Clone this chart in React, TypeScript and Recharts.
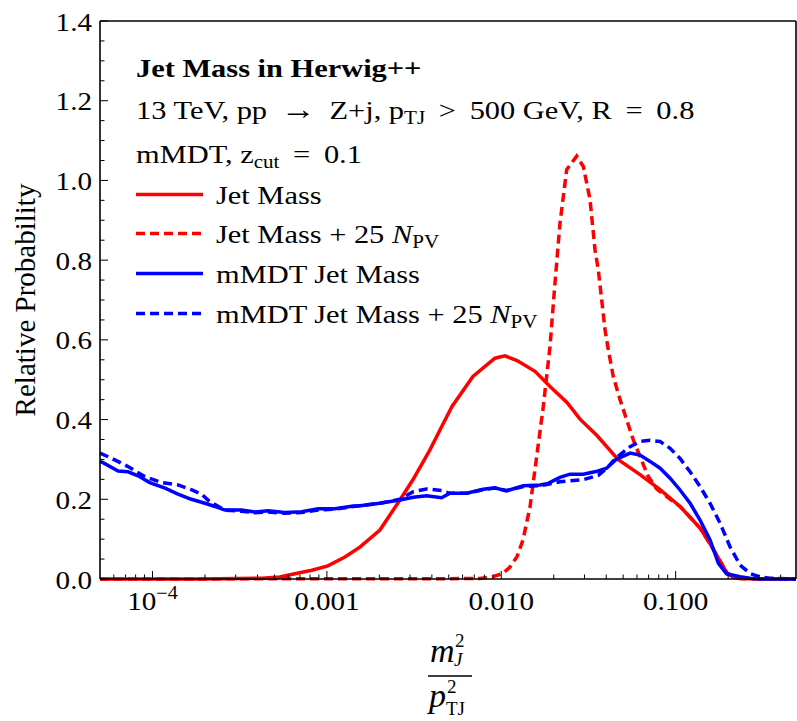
import React from 'react';
import { LineChart, Line, XAxis, YAxis, Legend } from 'recharts';

const FONT = '"Liberation Serif", "Times New Roman", Times, serif';
const TSX = 1.12; // horizontal stretch of tick text
const LSX = 1.17; // horizontal stretch of legend text

// ---- axis ticks ----
const xMajorTicks = [1e-4, 1e-3, 1e-2, 1e-1];
const xMajorLabels = ['10^-4', '0.001', '0.010', '0.100'];
const xAllTicks = [
  6e-5, 7e-5, 8e-5, 9e-5, 1e-4, 2e-4, 3e-4, 4e-4, 5e-4, 6e-4, 7e-4, 8e-4, 9e-4,
  1e-3, 2e-3, 3e-3, 4e-3, 5e-3, 6e-3, 7e-3, 8e-3, 9e-3,
  1e-2, 2e-2, 3e-2, 4e-2, 5e-2, 6e-2, 7e-2, 8e-2, 9e-2,
  0.1, 0.2, 0.3, 0.4,
];
const yAllTicks = [
  0, 0.05, 0.1, 0.15, 0.2, 0.25, 0.3, 0.35, 0.4, 0.45, 0.5, 0.55, 0.6, 0.65, 0.7,
  0.75, 0.8, 0.85, 0.9, 0.95, 1.0, 1.05, 1.1, 1.15, 1.2, 1.25, 1.3, 1.35, 1.4,
];
const yMajorTicks = [0, 0.2, 0.4, 0.6, 0.8, 1.0, 1.2, 1.4];
const yMajorLabels = ['0.0', '0.2', '0.4', '0.6', '0.8', '1.0', '1.2', '1.4'];

// ---- series: Jet Mass ----
const jetMassX = [
  5e-5, 1.87e-4, 4.24e-4, 5.37e-4, 6.55e-4, 8.2e-4, 1.013e-3, 1.269e-3, 1.546e-3,
  2.014e-3, 2.623e-3, 3.114e-3, 3.9e-3, 4.45e-3, 5.22e-3, 6.88e-3, 9.2e-3, 1.05e-2,
  1.231e-2, 1.561e-2, 1.903e-2, 2.381e-2, 2.83e-2, 3.54e-2, 4.67e-2, 6.25e-2,
  8.14e-2, 0.106, 0.121, 0.138, 0.1576, 0.1798, 0.1972, 0.215, 0.234, 0.305, 0.49,
];
const jetMassY = [
  0, 0, 0.002, 0.005, 0.013, 0.022, 0.033, 0.055, 0.08,
  0.123, 0.198, 0.249, 0.324, 0.374, 0.433, 0.508, 0.554, 0.56,
  0.548, 0.521, 0.483, 0.443, 0.401, 0.36, 0.3, 0.262,
  0.224, 0.182, 0.155, 0.128, 0.088, 0.045, 0.015, 0.004, 0.001, 0, 0,
];

// ---- series: Jet Mass + 25 N_PV ----
const jetMassPUX = [
  5e-5, 7.55e-3, 8.96e-3, 1.023e-2, 1.122e-2, 1.231e-2, 1.332e-2, 1.461e-2, 1.596e-2,
  1.742e-2, 1.903e-2, 2.033e-2, 2.172e-2, 2.372e-2, 2.707e-2, 2.955e-2, 3.228e-2,
  3.448e-2, 3.601e-2, 3.767e-2, 3.936e-2, 4.11e-2, 4.39e-2, 4.8e-2, 5.24e-2, 5.72e-2,
  6.25e-2, 6.97e-2, 7.79e-2, 0.09, 0.106, 0.121, 0.138, 0.1576, 0.1798, 0.1972,
  0.215, 0.234, 0.305, 0.49,
];
const jetMassPUY = [
  0, 0.001, 0.006, 0.014, 0.03, 0.056, 0.098, 0.18, 0.307,
  0.433, 0.583, 0.743, 0.893, 1.027, 1.061, 1.035, 0.952,
  0.826, 0.776, 0.7, 0.625, 0.575, 0.508, 0.45, 0.399, 0.349,
  0.307, 0.257, 0.226, 0.205, 0.182, 0.155, 0.128, 0.088, 0.045, 0.015,
  0.004, 0.001, 0, 0,
];

// ---- series: mMDT Jet Mass ----
const mmdtX = [
  5e-5, 5.2e-5, 6.35e-5, 7.24e-5, 8.26e-5, 9.65e-5, 1.18e-4, 1.4e-4, 1.67e-4, 2.0e-4,
  2.28e-4, 2.6e-4, 3.24e-4, 3.87e-4, 4.61e-4, 5.74e-4, 7.16e-4, 8.91e-4, 1.11e-3,
  1.42e-3, 1.55e-3, 2.01e-3, 2.62e-3, 3.13e-3, 3.73e-3, 4.55e-3, 5.08e-3, 6.33e-3,
  7.88e-3, 9.2e-3, 1.07e-2, 1.34e-2, 1.67e-2, 1.86e-2, 2.17e-2, 2.48e-2, 2.95e-2,
  3.6e-2, 4.02e-2, 4.59e-2, 5.48e-2, 6.25e-2, 7.13e-2, 8.14e-2, 9.29e-2, 0.1057,
  0.121, 0.138, 0.1575, 0.176, 0.196, 0.234, 0.267, 0.305, 0.49,
];
const mmdtY = [
  0.295, 0.292, 0.271, 0.269, 0.259, 0.242, 0.228, 0.213, 0.2, 0.19,
  0.182, 0.173, 0.173, 0.168, 0.171, 0.167, 0.169, 0.176, 0.176,
  0.183, 0.184, 0.19, 0.198, 0.205, 0.209, 0.204, 0.215, 0.215,
  0.225, 0.229, 0.221, 0.234, 0.236, 0.24, 0.255, 0.263, 0.263,
  0.271, 0.278, 0.301, 0.316, 0.311, 0.295, 0.278, 0.253, 0.224,
  0.19, 0.148, 0.098, 0.039, 0.013, 0.006, 0.002, 0, 0,
];

// ---- series: mMDT Jet Mass + 25 N_PV ----
const mmdtPUX = [
  5e-5, 5.82e-5, 7.24e-5, 9.03e-5, 1.126e-4, 1.4e-4, 1.67e-4, 1.91e-4, 2.13e-4, 2.6e-4,
  3.24e-4, 3.87e-4, 4.61e-4, 5.74e-4, 7.16e-4, 8.91e-4, 1.11e-3, 1.42e-3, 1.55e-3,
  2.01e-3, 2.62e-3, 3.13e-3, 3.73e-3, 4.55e-3, 5.08e-3, 6.33e-3, 7.88e-3, 9.2e-3,
  1.07e-2, 1.34e-2, 1.67e-2, 2.17e-2, 2.95e-2, 3.6e-2, 4.02e-2, 4.59e-2, 5.48e-2,
  6.25e-2, 7.13e-2, 8.14e-2, 9.29e-2, 0.1057, 0.121, 0.138, 0.1575, 0.1798, 0.205,
  0.234, 0.267, 0.305, 0.348, 0.49,
];
const mmdtPUY = [
  0.316, 0.303, 0.282, 0.257, 0.242, 0.236, 0.224, 0.213, 0.194, 0.173,
  0.17, 0.166, 0.168, 0.165, 0.167, 0.173, 0.175, 0.182, 0.184,
  0.19, 0.2, 0.219, 0.226, 0.222, 0.215, 0.215, 0.224, 0.228,
  0.222, 0.232, 0.234, 0.244, 0.249, 0.26, 0.278, 0.305, 0.332,
  0.345, 0.348, 0.345, 0.328, 0.303, 0.269, 0.232, 0.19, 0.14, 0.081,
  0.035, 0.014, 0.005, 0.002, 0,
];

const toPts = (xs: number[], ys: number[]) => xs.map((x, i) => ({ x, y: ys[i] }));
const jetMass = toPts(jetMassX, jetMassY);
const jetMassPU = toPts(jetMassPUX, jetMassPUY);
const mmdt = toPts(mmdtX, mmdtY);
const mmdtPU = toPts(mmdtPUX, mmdtPUY);

const RED = '#ff0000';
const BLUE = '#0000ff';
const DASH = '9 5';
const LW = 3.5;
const TS = '\u2009';

const near = (a: number, b: number) => Math.abs(a - b) <= Math.abs(b) * 1e-6 + 1e-9;
const xMajorIndex = (v: number) => xMajorTicks.findIndex((t) => near(v, t));
const yMajorIndex = (v: number) => yMajorTicks.findIndex((t) => near(v, t));

const XLabelText = ({ label }: { label: string }) => {
  if (label.startsWith('10^')) {
    return (
      <>
        <tspan>10</tspan>
        <tspan dy={-11} fontSize={18}>{'\u2212' + label.slice(4)}</tspan>
      </>
    );
  }
  return <>{label}</>;
};

const BottomTick = (props: any) => {
  const { x, y, payload } = props;
  const i = xMajorIndex(payload.value);
  const major = i >= 0;
  return (
    <g>
      <line x1={x} x2={x} y1={y} y2={y - (major ? 8 : 4.5)} stroke="#000" strokeWidth={1} />
      {major && (
        <text
          transform={`translate(${x},${y + 31}) scale(${TSX},1)`}
          textAnchor="middle"
          fontFamily={FONT}
          fontSize={26}
          fill="#000"
        >
          <XLabelText label={xMajorLabels[i]} />
        </text>
      )}
    </g>
  );
};

const TopTick = (props: any) => {
  const { x, y, payload } = props;
  const major = xMajorIndex(payload.value) >= 0;
  return <line x1={x} x2={x} y1={y} y2={y + (major ? 8 : 4.5)} stroke="#000" strokeWidth={1} />;
};

const LeftTick = (props: any) => {
  const { x, y, payload } = props;
  const i = yMajorIndex(payload.value);
  const major = i >= 0;
  return (
    <g>
      <line x1={x} x2={x + (major ? 8 : 4.5)} y1={y} y2={y} stroke="#000" strokeWidth={1} />
      {major && (
        <text
          transform={`translate(${x - 8},${y + 9.5}) scale(${TSX},1)`}
          textAnchor="end"
          fontFamily={FONT}
          fontSize={26}
          fill="#000"
        >
          {yMajorLabels[i]}
        </text>
      )}
    </g>
  );
};

const RightTick = (props: any) => {
  const { x, y, payload } = props;
  const major = yMajorIndex(payload.value) >= 0;
  return <line x1={x} x2={x - (major ? 8 : 4.5)} y1={y} y2={y} stroke="#000" strokeWidth={1} />;
};

const YTitle = (props: any) => {
  const vb = props.viewBox;
  const cy = vb.y + vb.height / 2;
  return (
    <text
      transform={`translate(35,${cy}) rotate(-90)`}
      textAnchor="middle"
      fontFamily={FONT}
      fontSize={29}
      fill="#000"
    >
      Relative Probability
    </text>
  );
};

const XTitle = (props: any) => {
  const vb = props.viewBox;
  const cx = vb.x + vb.width / 2;
  const l = cx - 20;
  return (
    <g fontFamily={FONT} fill="#000">
      <text x={l + 2} y={662} fontSize={34} fontStyle="italic">m</text>
      <text x={l + 27} y={647} fontSize={19}>2</text>
      <text x={l + 26} y={666} fontSize={19} fontStyle="italic">J</text>
      <line x1={l} x2={l + 44} y1={676} y2={676} stroke="#000" strokeWidth={1.5} />
      <text x={l + 1} y={707} fontSize={34} fontStyle="italic">p</text>
      <text x={l + 19} y={693} fontSize={19}>2</text>
      <text x={l + 18} y={715} fontSize={19}>TJ</text>
    </g>
  );
};

const legendItems = [
  { color: RED, dash: undefined as string | undefined, name: 'Jet Mass', pu: false, y: 204 },
  { color: RED, dash: DASH, name: 'Jet Mass + 25 ', pu: true, y: 243 },
  { color: BLUE, dash: undefined as string | undefined, name: 'mMDT Jet Mass', pu: false, y: 283 },
  { color: BLUE, dash: DASH, name: 'mMDT Jet Mass + 25 ', pu: true, y: 323 },
];

const TextBlock = () => (
  <svg width={797} height={340} style={{ display: 'block', overflow: 'visible' }}>
    <g fontFamily={FONT} fill="#000">
      <text transform={`translate(136,77) scale(${LSX},1)`} fontSize={26} fontWeight="bold">
        Jet Mass in Herwig++
      </text>
      <text transform={`translate(136,119) scale(${LSX},1)`} fontSize={26}>
        <tspan>{`13 TeV, pp ${TS}`}</tspan>
        <tspan fontSize={30}>{'\u2192'}</tspan>
        <tspan>{`${TS} Z+j, p`}</tspan>
        <tspan fontSize={18} dy={5}>TJ</tspan>
        <tspan dy={-5}>{` ${TS}>${TS} 500 GeV, R ${TS}=${TS} 0.8`}</tspan>
      </text>
      <text transform={`translate(136,163) scale(${LSX},1)`} fontSize={26}>
        <tspan>mMDT, z</tspan>
        <tspan fontSize={18} dy={5}>cut</tspan>
        <tspan dy={-5}>{` ${TS}=${TS} 0.1`}</tspan>
      </text>
      {legendItems.map((it) => (
        <g key={it.name}>
          <line
            x1={136}
            x2={203}
            y1={it.y - 9.5}
            y2={it.y - 9.5}
            stroke={it.color}
            strokeWidth={LW}
            strokeDasharray={it.dash}
          />
          <text transform={`translate(216,${it.y}) scale(${LSX},1)`} fontSize={26}>
            <tspan>{it.name}</tspan>
            {it.pu && <tspan fontStyle="italic">N</tspan>}
            {it.pu && <tspan fontSize={18} dy={5}>PV</tspan>}
          </text>
        </g>
      ))}
    </g>
  </svg>
);

export default function App() {
  return (
    <div style={{ position: 'absolute', left: 0, top: 0, background: '#fff' }}>
      <LineChart width={797} height={721} margin={{ top: 20, right: 0, bottom: 0, left: 0 }}>
        <XAxis
          xAxisId="b"
          dataKey="x"
          type="number"
          scale="log"
          domain={[5e-5, 0.49]}
          ticks={xAllTicks}
          interval={0}
          tick={<BottomTick />}
          tickLine={false}
          tickSize={0}
          tickMargin={0}
          height={142}
          axisLine={{ stroke: '#000', strokeWidth: 1.6 }}
          label={<XTitle />}
        />
        <XAxis
          xAxisId="t"
          orientation="top"
          dataKey="x"
          type="number"
          scale="log"
          domain={[5e-5, 0.49]}
          ticks={xAllTicks}
          interval={0}
          tick={<TopTick />}
          tickLine={false}
          tickSize={0}
          tickMargin={0}
          height={1}
          axisLine={{ stroke: '#000', strokeWidth: 1.6 }}
        />
        <YAxis
          yAxisId="l"
          type="number"
          domain={[0, 1.4]}
          ticks={yAllTicks}
          interval={0}
          tick={<LeftTick />}
          tickLine={false}
          tickSize={0}
          tickMargin={0}
          width={100}
          axisLine={{ stroke: '#000', strokeWidth: 1.6 }}
          label={<YTitle />}
        />
        <YAxis
          yAxisId="r"
          orientation="right"
          type="number"
          domain={[0, 1.4]}
          ticks={yAllTicks}
          interval={0}
          tick={<RightTick />}
          tickLine={false}
          tickSize={0}
          tickMargin={0}
          width={1}
          axisLine={{ stroke: '#000', strokeWidth: 1.6 }}
        />
        <Legend
          verticalAlign="middle"
          align="center"
          layout="horizontal"
          wrapperStyle={{ left: 0, top: 0, width: 797, height: 340, pointerEvents: 'none' }}
          content={() => <TextBlock />}
        />
        <Line xAxisId="b" yAxisId="l" data={jetMass} dataKey="y" type="linear" stroke={RED} strokeWidth={LW} dot={false} activeDot={false} isAnimationActive={false} name="Jet Mass" />
        <Line xAxisId="b" yAxisId="l" data={jetMassPU} dataKey="y" type="linear" stroke={RED} strokeWidth={LW} strokeDasharray={DASH} dot={false} activeDot={false} isAnimationActive={false} name="Jet Mass + 25 NPV" />
        <Line xAxisId="b" yAxisId="l" data={mmdt} dataKey="y" type="linear" stroke={BLUE} strokeWidth={LW} dot={false} activeDot={false} isAnimationActive={false} name="mMDT Jet Mass" />
        <Line xAxisId="b" yAxisId="l" data={mmdtPU} dataKey="y" type="linear" stroke={BLUE} strokeWidth={LW} strokeDasharray={DASH} dot={false} activeDot={false} isAnimationActive={false} name="mMDT Jet Mass + 25 NPV" />
      </LineChart>
    </div>
  );
}
